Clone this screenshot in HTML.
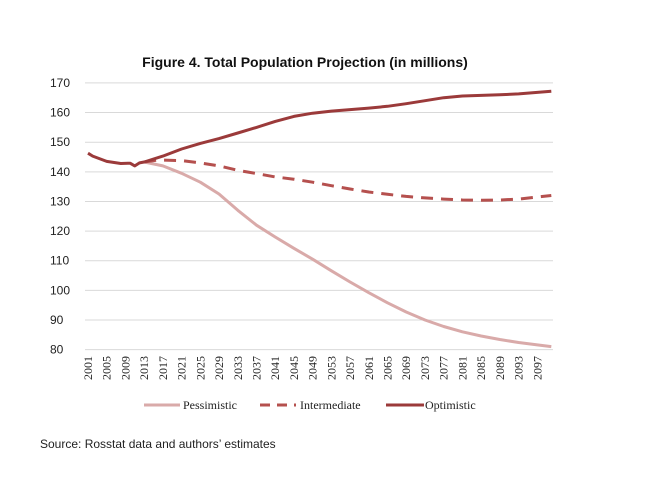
<!DOCTYPE html>
<html><head><meta charset="utf-8"><style>
body{margin:0;background:#fff;width:657px;height:475px;overflow:hidden;font-family:"Liberation Sans",sans-serif}
</style></head><body>
<svg id="chart" width="657" height="475" xmlns="http://www.w3.org/2000/svg">
<text x="305" y="67" text-anchor="middle" font-size="14" font-weight="bold" fill="#111">Figure 4.  Total Population Projection (in millions)</text>
<g id="grid"></g>
<g id="yt"></g>
<g id="xt"></g>
<g id="series"></g>
<g font-family="Liberation Serif, serif" font-size="12" fill="#222">
<g><line x1="144" y1="405" x2="180" y2="405" stroke="#d9aaa9" stroke-width="3"/><text x="183" y="409">Pessimistic</text></g>
<g><line x1="260" y1="405" x2="296" y2="405" stroke="#b5504e" stroke-width="3" stroke-dasharray="10,7"/><text x="300" y="409">Intermediate</text></g>
<g><line x1="386" y1="405" x2="424" y2="405" stroke="#9b3a3a" stroke-width="3"/><text x="425" y="409">Optimistic</text></g>
</g>
<text x="40" y="448" font-size="12" fill="#222">Source: Rosstat data and authors’ estimates</text>
</svg>
<script>
const yTicks=[80,90,100,110,120,130,140,150,160,170];
const xTickYears=[2001,2005,2009,2013,2017,2021,2025,2029,2033,2037,2041,2045,2049,2053,2057,2061,2065,2069,2073,2077,2081,2085,2089,2093,2097];
const optYears=[2001,2002,2005,2008,2010,2011,2012,2013,2017,2021,2025,2029,2033,2037,2041,2045,2049,2053,2057,2061,2065,2069,2073,2077,2081,2085,2089,2093,2097,2100];
const optVals=[146.3,145.3,143.5,142.8,142.9,142.0,143.0,143.3,145.3,147.7,149.6,151.2,153.1,155.0,157.0,158.7,159.8,160.5,161.0,161.5,162.1,163.0,164.0,165.0,165.6,165.8,166.0,166.3,166.8,167.2];
const intYears=[2013,2016,2021,2025,2029,2033,2037,2041,2045,2049,2053,2057,2061,2065,2069,2073,2077,2081,2085,2089,2093,2097,2100];
const intVals=[143.3,144.0,143.8,143.0,142.0,140.5,139.4,138.3,137.5,136.5,135.3,134.2,133.2,132.4,131.7,131.2,130.8,130.5,130.4,130.5,130.8,131.5,132.0];
const pesYears=[2013,2017,2021,2025,2029,2033,2037,2041,2045,2049,2053,2057,2061,2065,2069,2073,2077,2081,2085,2089,2093,2097,2100];
const pesVals=[143.3,142.0,139.5,136.5,132.5,127.0,122.0,118.0,114.2,110.5,106.6,102.8,99.2,95.8,92.7,90.0,87.8,86.0,84.6,83.4,82.4,81.6,81.0];
const NS='http://www.w3.org/2000/svg';
const X=y=>88+(y-2001)*4.68;
const Y=v=>349.6-(v-80)*2.963;
function mk(t,a,p){const e=document.createElementNS(NS,t);for(const k in a)e.setAttribute(k,a[k]);p.appendChild(e);return e;}
const grid=document.getElementById('grid'),yt=document.getElementById('yt'),xt=document.getElementById('xt'),ser=document.getElementById('series');
yTicks.forEach(v=>{
 const l=mk('line',{x1:85,x2:553,y1:Y(v),y2:Y(v),stroke:'#d9d9d9','stroke-width':1},grid);
 
 
 const t=mk('text',{x:50,y:Y(v)+4,'font-size':12,fill:'#222'},yt);
 
 
 t.textContent=v;
});
xTickYears.forEach(yr=>{
 const t=mk('text',{x:0,y:0,'font-size':12,fill:'#222','font-family':'Liberation Serif, serif','text-anchor':'end',transform:`translate(${X(yr)+4},356) rotate(-90)`},xt);
 
 
 t.textContent=yr;
});
function path(ys,vs){let d='';ys.forEach((y,i)=>{d+=(i?'L':'M')+X(y).toFixed(1)+','+Y(vs[i]).toFixed(1);});return d;}
const p1=mk('path',{d:path(pesYears,pesVals),fill:'none',stroke:'#d9aaa9','stroke-width':3,'stroke-linejoin':'round'},ser);


const p2=mk('path',{d:path(intYears,intVals),fill:'none',stroke:'#b5504e','stroke-width':3,'stroke-dasharray':'12,8','stroke-linejoin':'round'},ser);


const p3=mk('path',{d:path(optYears,optVals),fill:'none',stroke:'#9b3a3a','stroke-width':3,'stroke-linejoin':'round'},ser);


</script>
</body></html>
